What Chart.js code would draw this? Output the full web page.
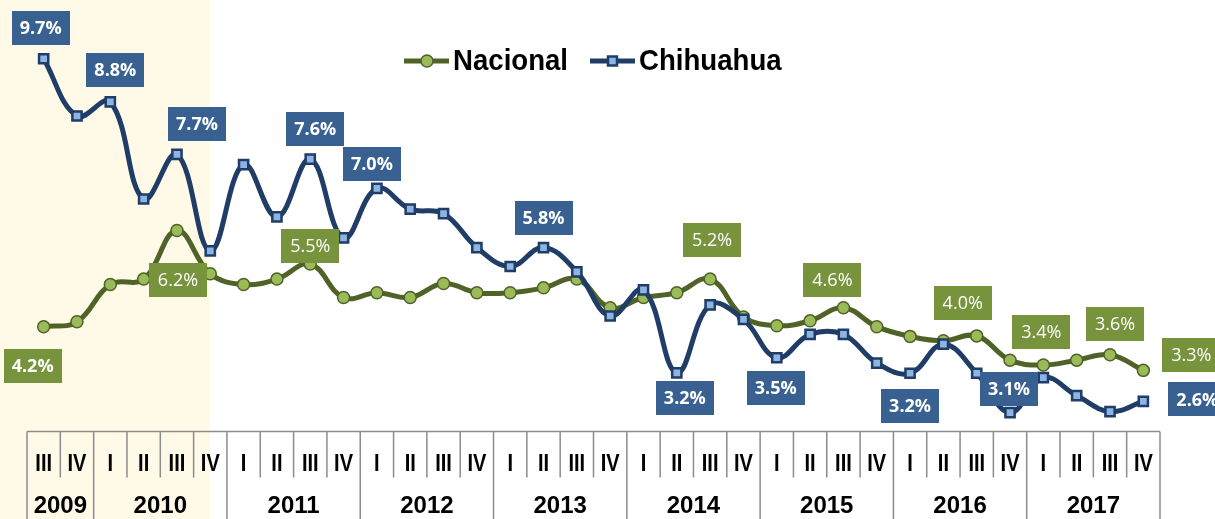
<!DOCTYPE html>
<html>
<head>
<meta charset="utf-8">
<script src="https://cdn.jsdelivr.net/npm/chart.js@4"></script>
<style>
  html, body { margin: 0; padding: 0; background: #fff; }
  #wrap { width: 1215px; height: 519px; position: relative; }
</style>
</head>
<body>
<div id="wrap"><canvas id="chart"></canvas></div>
<script>
// quarters from 2009 III to 2017 IV
const quarters = ['III', 'IV',
  'I', 'II', 'III', 'IV', 'I', 'II', 'III', 'IV', 'I', 'II', 'III', 'IV', 'I', 'II', 'III', 'IV',
  'I', 'II', 'III', 'IV', 'I', 'II', 'III', 'IV', 'I', 'II', 'III', 'IV', 'I', 'II', 'III', 'IV'];
const years = ['2009', '2010', '2011', '2012', '2013', '2014', '2015', '2016', '2017'];
const quartersPerYear = [2, 4, 4, 4, 4, 4, 4, 4, 4];

// unemployment rate, %
const nacional = [4.17, 4.27, 5.04, 5.15, 6.15, 5.26, 5.04, 5.15, 5.46, 4.77, 4.87, 4.77,
  5.06, 4.87, 4.87, 4.97, 5.15, 4.56, 4.77, 4.87, 5.15, 4.37, 4.19, 4.29,
  4.56, 4.17, 3.97, 3.88, 3.98, 3.48, 3.38, 3.48, 3.59, 3.27];
const chihuahua = [9.69, 8.51, 8.80, 6.80, 7.72, 5.73, 7.51, 6.43, 7.62, 6.00, 7.02, 6.59,
  6.50, 5.80, 5.41, 5.80, 5.30, 4.39, 4.93, 3.22, 4.62, 4.32, 3.53, 4.01,
  4.01, 3.42, 3.21, 3.81, 3.21, 2.40, 3.12, 2.75, 2.42, 2.63];

// value tags shown on the chart
const nacionalTagAt = [0, 4, 8, 20, 24, 28, 30, 32, 33];
const nacionalTags = ['4.2%', '6.2%', '5.5%', '5.2%', '4.6%', '4.0%', '3.4%', '3.6%', '3.3%'];
const chihuahuaTagAt = [0, 2, 4, 8, 10, 15, 19, 22, 26, 29, 33];
const chihuahuaTags = ['9.7%', '8.8%', '7.7%', '7.6%', '7.0%', '5.8%', '3.2%', '3.5%', '3.2%', '3.1%', '2.6%'];

// tag placement relative to the point (px)
const nacionalTagOffset = [[-11, 39], [1, 49], [0, -18], [2, -39], [-11, -28], [-14, -33], [-2, -33], [5, -31], [48, -15]];
const chihuahuaTagOffset = [[-3, -31], [5, -32], [20, -30], [5, -30], [-5, -24], [0, -30], [8, 25], [-1, 30], [0, 33], [-1, -24], [54, -2]];

const GREEN_LINE = '#4F6228', GREEN_FILL = '#9BBB59', GREEN_TAG = '#77933C';
const BLUE_LINE = '#1F3D66', BLUE_FILL = '#8DB4E2', BLUE_TAG = '#386192';

function drawTag(ctx, x, y, text, bg, bold) {
  const w = 58, h = 34;
  ctx.fillStyle = bg;
  ctx.fillRect(Math.round(x - w / 2), Math.round(y - h / 2), w, h);
  ctx.fillStyle = '#fff';
  ctx.font = (bold ? 'bold ' : '') + '18px "Open Sans"';
  ctx.textAlign = 'center';
  ctx.textBaseline = 'middle';
  ctx.fillText(text, x, y + 1);
}

// condensed text: squeeze horizontally
function narrowText(ctx, text, x, y, sx) {
  ctx.save();
  ctx.translate(x, y);
  ctx.scale(sx, 1);
  ctx.fillText(text, 0, 0);
  ctx.restore();
}

const decor = {
  id: 'decor',
  beforeDraw(chart) {
    const ctx = chart.ctx, x = chart.scales.x;
    ctx.save();
    ctx.fillStyle = '#FFF9E7';
    ctx.fillRect(0, 0, x.getPixelForValue(5), chart.height);
    ctx.restore();
  },
  afterDatasetsDraw(chart) {
    const ctx = chart.ctx;
    ctx.save();
    const nac = chart.getDatasetMeta(0).data;
    nacionalTagAt.forEach((idx, k) => {
      const p = nac[idx];
      drawTag(ctx, p.x + nacionalTagOffset[k][0], p.y + nacionalTagOffset[k][1], nacionalTags[k], GREEN_TAG, k === 0);
    });
    const chi = chart.getDatasetMeta(1).data;
    chihuahuaTagAt.forEach((idx, k) => {
      const p = chi[idx];
      drawTag(ctx, p.x + chihuahuaTagOffset[k][0], p.y + chihuahuaTagOffset[k][1], chihuahuaTags[k], BLUE_TAG, true);
    });
    ctx.restore();
  },
  afterDraw(chart) {
    const ctx = chart.ctx, x = chart.scales.x;
    const left = x.left, right = x.right;
    const w = (right - left) / quarters.length;
    const top = chart.chartArea.bottom - 0.5;

    ctx.save();
    // axis table
    ctx.strokeStyle = '#8C8C8C';
    ctx.lineWidth = 1.5;
    ctx.beginPath();
    ctx.moveTo(left, top);
    ctx.lineTo(right, top);
    const yearBounds = new Set([0]);
    let acc = 0;
    quartersPerYear.forEach(n => { acc += n; yearBounds.add(acc); });
    for (let i = 0; i <= quarters.length; i++) {
      const px = left + i * w;
      ctx.moveTo(px, top);
      ctx.lineTo(px, yearBounds.has(i) ? chart.height : top + 46);
    }
    ctx.stroke();

    ctx.fillStyle = '#000';
    ctx.textAlign = 'center';
    ctx.textBaseline = 'middle';
    ctx.font = 'bold 23px "Liberation Sans", Arial, sans-serif';
    quarters.forEach((q, i) => narrowText(ctx, q, left + (i + 0.5) * w, top + 33, 0.87));
    ctx.font = 'bold 24px "Liberation Sans", Arial, sans-serif';
    let start = 0;
    years.forEach((yr, k) => {
      const n = quartersPerYear[k];
      ctx.fillText(yr, left + (start + n / 2) * w, top + 75);
      start += n;
    });

    // legend
    const items = [
      { x: 404, text: 'Nacional', line: GREEN_LINE, fill: GREEN_FILL, style: 'circle' },
      { x: 590, text: 'Chihuahua', line: BLUE_LINE, fill: BLUE_FILL, style: 'rect' }
    ];
    const ly = 61;
    items.forEach(it => {
      ctx.strokeStyle = it.line;
      ctx.lineWidth = 5;
      ctx.beginPath();
      ctx.moveTo(it.x, ly);
      ctx.lineTo(it.x + 45, ly);
      ctx.stroke();
      ctx.fillStyle = it.fill;
      ctx.lineWidth = it.style === 'rect' ? 2.5 : 1.5;
      ctx.beginPath();
      if (it.style === 'rect') ctx.rect(it.x + 18, ly - 4.5, 9, 9);
      else ctx.arc(it.x + 23, ly, 6, 0, Math.PI * 2);
      ctx.fill();
      ctx.stroke();
      ctx.fillStyle = '#000';
      ctx.textAlign = 'left';
      ctx.font = 'bold 30px "Liberation Sans", Arial, sans-serif';
      narrowText(ctx, it.text, it.x + 49, ly + 1, 0.92);
    });
    ctx.restore();
  }
};

new Chart(document.getElementById('chart'), {
  type: 'line',
  data: {
    labels: quarters,
    datasets: [
      {
        label: 'Nacional',
        data: nacional,
        borderColor: GREEN_LINE,
        borderWidth: 5,
        pointStyle: 'circle',
        pointRadius: 6,
        pointBackgroundColor: GREEN_FILL,
        pointBorderColor: GREEN_LINE,
        pointBorderWidth: 1.5,
        tension: 0.4,
        order: 2
      },
      {
        label: 'Chihuahua',
        data: chihuahua,
        borderColor: BLUE_LINE,
        borderWidth: 5,
        pointStyle: 'rect',
        pointRadius: 6.5,
        pointBackgroundColor: BLUE_FILL,
        pointBorderColor: BLUE_LINE,
        pointBorderWidth: 2.5,
        tension: 0.4,
        order: 1
      }
    ]
  },
  options: {
    responsive: true,
    maintainAspectRatio: false,
    animation: false,
    layout: { autoPadding: false, padding: { left: 27, right: 55, top: 0, bottom: 87 } },
    plugins: {
      legend: { display: false },
      tooltip: { enabled: false }
    },
    scales: {
      x: { display: false, offset: true },
      y: { display: false, min: 2, max: 10.9 }
    }
  },
  plugins: [decor]
});
</script>
</body>
</html>
